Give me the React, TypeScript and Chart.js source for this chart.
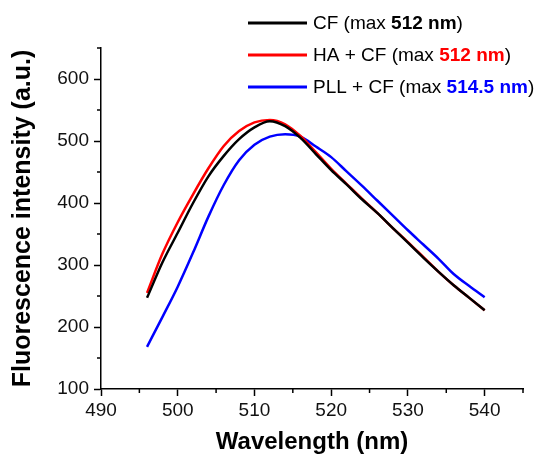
import React, { useEffect, useRef } from "react";
import { Chart, registerables } from "chart.js";

Chart.register(...registerables);

const wavelengths = [496, 498, 500, 502, 504, 506, 508, 510, 512, 514, 516, 518, 520, 522, 524, 526, 528, 530, 532, 534, 536, 538, 540];
const cfValues = [247, 304, 352, 400, 443, 476, 503, 522, 532, 524, 505, 479, 453, 430, 406, 384, 360, 336, 312, 289, 267, 247, 227];
const haCfValues = [255, 318, 369, 414, 456, 492, 516, 530, 534, 527, 508, 482, 455, 431, 407, 384, 360, 337, 313, 289, 267, 247, 227];
const pllCfValues = [168, 216, 265, 320, 378, 429, 469, 494, 507, 511, 507, 491, 474, 451, 428, 404, 380, 356, 333, 310, 285, 266, 248];

const seriesNames = ["CF", "HA + CF", "PLL + CF"];
const seriesMax = ["512 nm", "512 nm", "514.5 nm"];
const seriesColors = ["#000000", "#ff0000", "#0000ff"];

const xMin = 490, xMax = 545, xStep = 10;
const yMin = 100, yMax = 650, yStep = 100;

const FONT = "'Liberation Sans', Arial, sans-serif";

const minorTicks = {
  id: "minorTicks",
  afterDraw(chart: any) {
    const ctx = chart.ctx;
    const xs = chart.scales.x;
    const ys = chart.scales.y;
    const area = chart.chartArea;
    ctx.save();
    ctx.strokeStyle = "#000";
    ctx.lineWidth = 1.5;
    for (let v = xMin + xStep / 2; v <= xMax; v += xStep) {
      const px = xs.getPixelForValue(v);
      ctx.beginPath();
      ctx.moveTo(px, area.bottom);
      ctx.lineTo(px, area.bottom + 4);
      ctx.stroke();
    }
    for (let v = yMin + yStep / 2; v <= yMax; v += yStep) {
      const py = ys.getPixelForValue(v);
      ctx.beginPath();
      ctx.moveTo(area.left, py);
      ctx.lineTo(area.left - 4, py);
      ctx.stroke();
    }
    ctx.restore();
  },
};

const richLegend = {
  id: "richLegend",
  afterDraw(chart: any) {
    const ctx = chart.ctx;
    ctx.save();
    const lineX0 = 248, lineX1 = 307, textX = 313;
    const rowY = [23, 55, 87];
    ctx.textBaseline = "middle";
    chart.data.datasets.forEach((ds: any, i: number) => {
      const y = rowY[i];
      ctx.strokeStyle = seriesColors[i];
      ctx.lineWidth = 3;
      ctx.beginPath();
      ctx.moveTo(lineX0, y);
      ctx.lineTo(lineX1, y);
      ctx.stroke();
      let x = textX;
      const normal = `19px ${FONT}`;
      const bold = `bold 19px ${FONT}`;
      const parts: [string, string, string][] = [
        [seriesNames[i] + " (max ", normal, "#000"],
        [seriesMax[i], bold, seriesColors[i]],
        [")", normal, "#000"],
      ];
      parts.forEach(([t, f, c]) => {
        ctx.font = f;
        ctx.fillStyle = c;
        ctx.fillText(t, x, y + 1);
        x += ctx.measureText(t).width;
      });
    });
    ctx.restore();
  },
};

export default function App() {
  const ref = useRef<HTMLCanvasElement>(null);
  useEffect(() => {
    document.body.style.margin = "0";
    const mk = (vals: number[]) => wavelengths.map((w, i) => ({ x: w, y: vals[i] }));
    const chart = new Chart(ref.current!, {
      type: "line",
      data: {
        datasets: [
          { label: seriesNames[0], data: mk(cfValues), borderColor: seriesColors[0] },
          { label: seriesNames[1], data: mk(haCfValues), borderColor: seriesColors[1] },
          { label: seriesNames[2], data: mk(pllCfValues), borderColor: seriesColors[2] },
        ].map((d) => ({ ...d, borderWidth: 2.5, pointRadius: 0, fill: false, cubicInterpolationMode: "monotone" as const })),
      },
      options: {
        responsive: false,
        animation: false,
        layout: { padding: { top: 48, right: 22, left: 0, bottom: 0 } },
        plugins: { legend: { display: false }, tooltip: { enabled: false } },
        scales: {
          x: {
            type: "linear",
            min: xMin,
            max: xMax,
            afterFit: (s: any) => { s.height = 68; },
            border: { display: true, color: "#000", width: 1.5 },
            grid: { display: true, drawOnChartArea: false, drawTicks: true, tickLength: 7, tickWidth: 1.5, tickColor: "#000" },
            ticks: { stepSize: xStep, includeBounds: false, color: "#111", font: { family: FONT, size: 19 }, padding: 3, maxRotation: 0 },
            title: { display: true, text: "Wavelength (nm)", color: "#000", font: { family: FONT, size: 24, weight: "bold" }, padding: { top: 2, bottom: 0 } },
          },
          y: {
            type: "linear",
            min: yMin,
            max: yMax,
            afterFit: (s: any) => { s.width = 101; },
            border: { display: true, color: "#000", width: 1.5 },
            grid: { display: true, drawOnChartArea: false, drawTicks: true, tickLength: 7, tickWidth: 1.5, tickColor: "#000" },
            ticks: { stepSize: yStep, includeBounds: false, color: "#111", font: { family: FONT, size: 19 }, padding: 5 },
            title: { display: true, text: "Fluorescence intensity (a.u.)", color: "#000", font: { family: FONT, size: 25, weight: "bold" }, padding: { top: 8, bottom: 0 } },
          },
        },
      },
      plugins: [minorTicks, richLegend],
    });
    return () => chart.destroy();
  }, []);
  return (
    <div style={{ width: 545, height: 457, background: "#fff" }}>
      <canvas ref={ref} width={545} height={457} />
    </div>
  );
}
